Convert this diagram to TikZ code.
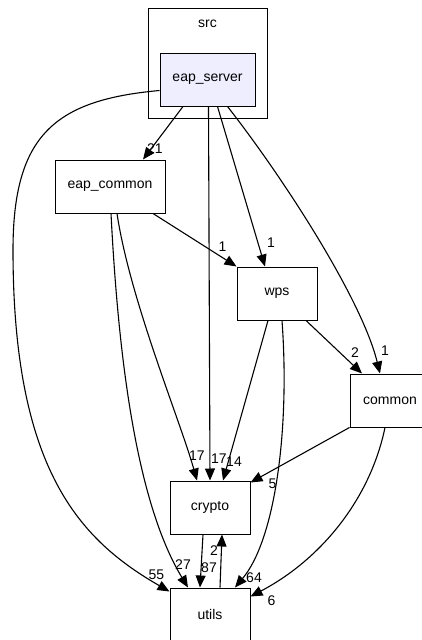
\documentclass[tikz,border=0pt]{standalone}
\usepackage{fontspec}
\setmainfont{Liberation Sans}
\usetikzlibrary{arrows.meta}
\definecolor{srvfill}{RGB}{238,238,255}

\begin{document}
\begin{tikzpicture}[x=1pt,y=-1pt,
		dir/.style={draw,line width=1pt,minimum width=80pt,minimum height=53pt,inner sep=0pt,font=\fontsize{14}{16}\selectfont},
		dep/.style={line width=1.1pt,-{Triangle[length=12pt,width=10pt]}},
		lbl/.style={font=\fontsize{14}{16}\selectfont,inner sep=0pt}]
		\useasboundingbox (0,0) rectangle (422,640);
		% cluster src
		\node[draw,line width=1pt,minimum width=119pt,minimum height=110pt,inner sep=0pt] (src) at (207.5,63) {};
		\node[lbl] (srclabel) at (207.5,24) {src};
		% directories
		\node[dir,fill=srvfill,minimum width=95pt] (eapserver) at (207.5,79.5) {eap\_server};
		\node[dir,minimum width=110pt] (eapcommon) at (110,186.5) {eap\_common};
		\node[dir] (wps) at (277,293.5) {wps};
		\node[dir] (common) at (390,400.5) {common};
		\node[dir] (crypto) at (210,507.5) {crypto};
		\node[dir] (utils) at (210,614.5) {utils};
		% dependencies
		\draw[dep] ([xshift=-24.5pt]eapserver.south) -- ([xshift=33pt]eapcommon.north) node[lbl,xshift=12pt,yshift=11pt] {21};
		\draw[dep] ([yshift=-11pt]eapserver.west) .. controls (55,100) and (13,135) .. (13,250) .. controls (13,470) and (80,540) .. ([yshift=-4pt]utils.north west) node[lbl,xshift=-13pt,yshift=17pt] {55};
		\draw[dep] ([xshift=1pt]eapserver.south) -- (crypto.north) node[lbl,xshift=9pt,yshift=22pt] {17};
		\draw[dep] ([xshift=10pt]eapserver.south) -- ([xshift=-12pt]wps.north) node[lbl,xshift=6pt,yshift=24pt] {1};
		\draw[dep] ([xshift=20pt]eapserver.south) .. controls (285,180) and (362,300) .. ([xshift=-10pt]common.north) node[lbl,xshift=5pt,yshift=23pt] {1};
		\draw[dep] ([xshift=43pt]eapcommon.south) -- (wps.north west) node[lbl,xshift=-14pt,yshift=20pt] {1};
		\draw[dep] ([xshift=7pt]eapcommon.south) .. controls (130,300) and (180,420) .. ([xshift=-13pt]crypto.north) node[lbl,yshift=25pt] {17};
		\draw[dep] ([xshift=1pt]eapcommon.south) .. controls (118,350) and (135,500) .. ([xshift=-22pt]utils.north) node[lbl,xshift=-5pt,yshift=23pt] {27};
		\draw[dep] ([xshift=-9pt]wps.south) -- ([xshift=13pt]crypto.north) node[lbl,xshift=11pt,yshift=19pt] {14};
		\draw[dep] ([xshift=5pt]wps.south) .. controls (290,430) and (275,540) .. ([xshift=25pt]utils.north) node[lbl,xshift=19pt,yshift=10pt] {64};
		\draw[dep] ([xshift=29pt]wps.south) -- ([xshift=-28pt]common.north) node[lbl,xshift=-7pt,yshift=21pt] {2};
		\draw[dep] (common.south west) -- ([yshift=-2pt]crypto.north east) node[lbl,xshift=22pt,yshift=-1pt] {5};
		\draw[dep] ([xshift=-5pt]common.south) .. controls (370,500) and (320,560) .. ([yshift=-9pt]utils.north east) node[lbl,xshift=21pt,yshift=-4pt] {6};
		\draw[dep] ([xshift=-7pt]crypto.south) -- ([xshift=-10pt]utils.north) node[lbl,xshift=9pt,yshift=20pt] {87};
		\draw[dep] ([xshift=10pt]utils.north) -- ([xshift=12pt]crypto.south) node[lbl,xshift=-8pt,yshift=-16pt] {2};
	\end{tikzpicture}
\end{document}
